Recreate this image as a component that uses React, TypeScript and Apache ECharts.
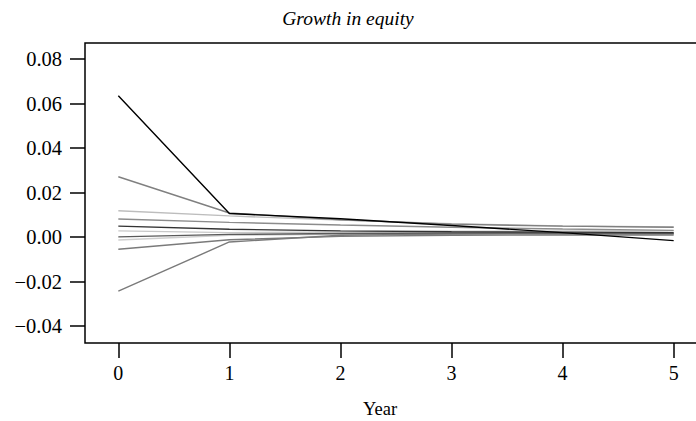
import React, { useEffect, useRef } from "react";
import * as echarts from "echarts";

const years = [0, 1, 2, 3, 4, 5];
const xTicks = [0, 1, 2, 3, 4, 5];
const yTicks = [-0.04, -0.02, 0, 0.02, 0.04, 0.06, 0.08];

const seriesA = [0.0635, 0.0106, 0.0082, 0.0052, 0.002, -0.0016];
const seriesB = [0.0271, 0.0108, 0.0078, 0.0058, 0.0049, 0.0044];
const seriesC = [0.0118, 0.0095, 0.0076, 0.006, 0.005, 0.0045];
const seriesD = [0.0081, 0.0066, 0.0054, 0.0044, 0.0036, 0.003];
const seriesE = [0.0049, 0.0035, 0.0028, 0.0024, 0.0022, 0.002];
const seriesF = [0.0028, 0.002, 0.0023, 0.0026, 0.0027, 0.0028];
const seriesG = [0.0001, 0.0012, 0.0016, 0.0018, 0.0018, 0.0017];
const seriesH = [-0.0013, 0.0008, 0.0012, 0.0013, 0.0013, 0.0012];
const seriesI = [-0.0055, -0.0012, 0.0003, 0.0008, 0.0009, 0.0009];
const seriesJ = [-0.0243, -0.0022, 0.0008, 0.0014, 0.0015, 0.0015];

const allSeries = [
  { values: seriesC, color: "#bdbdbd" },
  { values: seriesF, color: "#c8c8c8" },
  { values: seriesH, color: "#cfcfcf" },
  { values: seriesD, color: "#8c8c8c" },
  { values: seriesI, color: "#7a7a7a" },
  { values: seriesJ, color: "#7a7a7a" },
  { values: seriesB, color: "#808080" },
  { values: seriesG, color: "#5a5a5a" },
  { values: seriesE, color: "#333333" },
  { values: seriesA, color: "#000000" },
];

const FONT = "Liberation Serif";

export default function App() {
  const ref = useRef<HTMLDivElement>(null);
  useEffect(() => {
    if (!ref.current) return;
    const chart = echarts.init(ref.current, undefined, { renderer: "svg" });
    const fmt = (v: number) =>
      (v < -1e-9 ? "\u2212" : "") + Math.abs(v).toFixed(2);
    chart.setOption({
      animation: false,
      backgroundColor: "#ffffff",
      grid: {
        left: 85,
        top: 43,
        bottom: 78,
        right: 13,
        show: true,
        borderColor: "#000",
        borderWidth: 1.5,
        backgroundColor: "transparent",
      },
      xAxis: {
        type: "value",
        min: -0.3,
        max: 5.3,
        axisLine: { show: false, onZero: false },
        splitLine: { show: false },
        axisTick: {
          show: true,
          length: 15,
          customValues: xTicks,
          lineStyle: { color: "#000", width: 1.5 },
        },
        axisLabel: {
          customValues: xTicks,
          margin: 20,
          fontFamily: FONT,
          fontSize: 20,
          color: "#000",
          formatter: (v: number) => String(v),
        },
      },
      yAxis: {
        type: "value",
        min: -0.0476,
        max: 0.0872,
        axisLine: { show: false, onZero: false },
        splitLine: { show: false },
        axisTick: {
          show: true,
          length: 15,
          customValues: yTicks,
          lineStyle: { color: "#000", width: 1.5 },
        },
        axisLabel: {
          customValues: yTicks,
          margin: 23,
          fontFamily: FONT,
          fontSize: 20.5,
          color: "#000",
          formatter: fmt,
        },
      },
      graphic: [
        {
          type: "text",
          x: 348,
          y: 18,
          style: {
            text: "Growth in equity",
            fontFamily: FONT,
            fontStyle: "italic",
            fontSize: 19.5,
            fill: "#000",
            align: "center",
            verticalAlign: "middle",
          },
        },
        {
          type: "text",
          x: 380,
          y: 409,
          style: {
            text: "Year",
            fontFamily: FONT,
            fontSize: 18.5,
            fill: "#000",
            align: "center",
            verticalAlign: "middle",
          },
        },
      ],
      series: allSeries.map((s, i) => ({
        type: "line",
        name: "s" + i,
        symbol: "none",
        data: years.map((x, j) => [x, s.values[j]]),
        lineStyle: { color: s.color, width: 1.4 },
        itemStyle: { color: s.color },
        silent: true,
      })),
    });
    return () => chart.dispose();
  }, []);
  return (
    <div
      ref={ref}
      style={{ position: "fixed", left: 0, top: 0, width: 720, height: 421 }}
    />
  );
}
